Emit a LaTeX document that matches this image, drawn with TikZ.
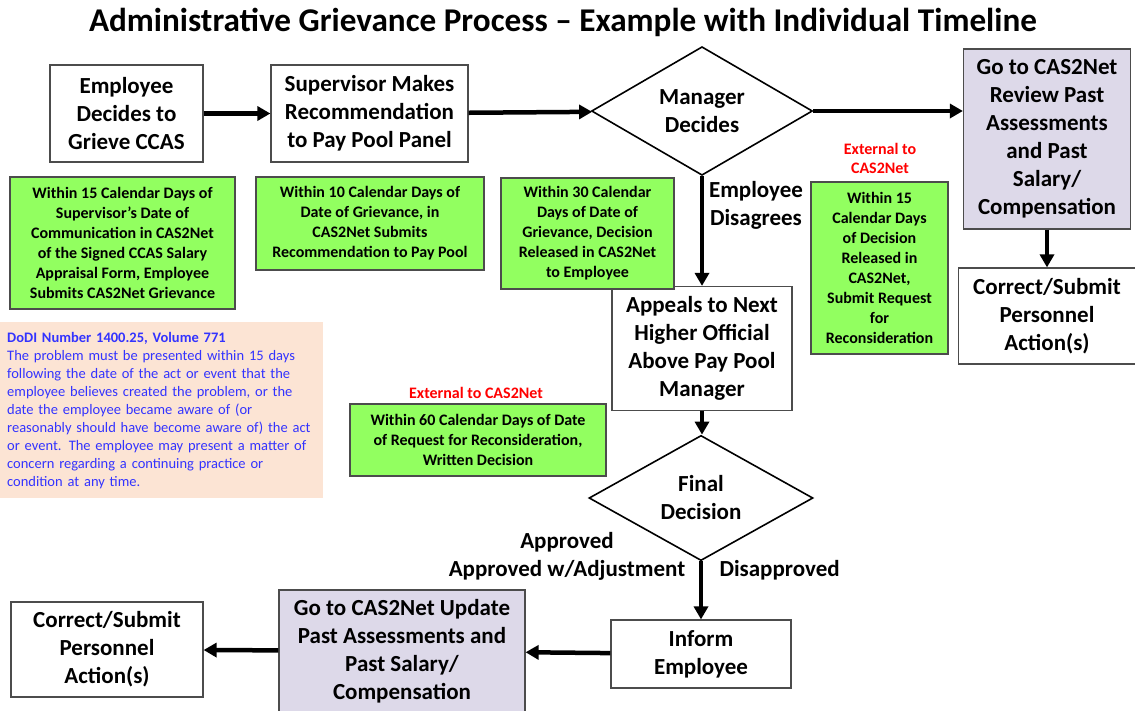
\documentclass[tikz,border=0pt]{standalone}
\usepackage{fontspec}
\setmainfont{Carlito}
\usetikzlibrary{shapes.geometric,arrows.meta}
\definecolor{grnfill}{RGB}{146,255,96}
\definecolor{lavfill}{RGB}{221,217,233}
\definecolor{peachfill}{RGB}{252,228,212}
\definecolor{notetext}{RGB}{51,51,255}
\tikzset{
  box/.style={draw=black!70, line width=1.2pt, fill=white, align=center, inner sep=0pt,
    font=\fontsize{23}{28}\selectfont\bfseries},
  lavbox/.style={box, fill=lavfill},
  greenbox/.style={draw=black!70, line width=1.2pt, fill=grnfill, align=center, inner sep=0pt,
    font=\fontsize{16}{20}\selectfont\bfseries},
  decision/.style={diamond, draw=black, line width=1.6pt, fill=white, align=center, inner sep=0pt,
    font=\fontsize{23}{28}\selectfont\bfseries},
  extnote/.style={text=red, align=center, font=\fontsize{16}{19}\selectfont\bfseries},
  flowlbl/.style={align=center, font=\fontsize{23}{28}\selectfont\bfseries},
  flow/.style={line width=4.5pt, -{Triangle[length=13pt,width=14pt]}},
}
\begin{document}
\begin{tikzpicture}[x=1pt,y=-1pt]
    \useasboundingbox (0,0) rectangle (1135,710);
    \node[font=\fontsize{33.2}{38}\selectfont\bfseries] (title) at (563,22)
        {Administrative Grievance Process – Example with Individual Timeline};
    % main flow
    \node[box, minimum width=153, minimum height=97] (Emp) at (126.5,113.5) {Employee\\Decides to\\Grieve CCAS};
    \node[box, minimum width=197, minimum height=97] (Sup) at (369.5,113.5) {Supervisor Makes\\Recommendation\\to Pay Pool Panel};
    \node[decision, minimum width=221, minimum height=121] (Mgr) at (702,111) {Manager\\Decides};
    \node[lavbox, minimum width=167, minimum height=180] (Review) at (1047,139) {Go to CAS2Net\\Review Past\\Assessments\\and Past\\Salary/\\Compensation};
    \node[box, minimum width=177, minimum height=96] (CorrR) at (1047,316) {Correct/Submit\\Personnel\\Action(s)};
    \node[box, minimum width=180, minimum height=124] (Appeal) at (702,348.5) {Appeals to Next\\Higher Official\\Above Pay Pool\\Manager};
    \node[decision, minimum width=224, minimum height=118] (Final) at (701,498) {Final\\Decision};
    \node[box, minimum width=180, minimum height=68] (Inform) at (701,654) {Inform\\Employee};
    \node[lavbox, minimum width=246, minimum height=122] (Update) at (402,651) {Go to CAS2Net Update\\Past Assessments and\\Past Salary/\\Compensation};
    \node[box, minimum width=192, minimum height=95] (CorrL) at (107,649.5) {Correct/Submit\\Personnel\\Action(s)};
    % timelines
    \node[greenbox, minimum width=225, minimum height=132] (T15) at (122.5,243) {Within 15 Calendar Days of\\Supervisor’s Date of\\Communication in CAS2Net\\of the Signed CCAS Salary\\Appraisal Form, Employee\\Submits CAS2Net Grievance};
    \node[greenbox, minimum width=228, minimum height=93] (T10) at (370,223.5) {Within 10 Calendar Days of\\Date of Grievance, in\\CAS2Net Submits\\Recommendation to Pay Pool};
    \node[greenbox, minimum width=173, minimum height=111] (T30) at (587.5,233.5) {Within 30 Calendar\\Days of Date of\\Grievance, Decision\\Released in CAS2Net\\to Employee};
    \node[greenbox, minimum width=137, minimum height=172] (Trec) at (879.5,268) {Within 15\\Calendar Days\\of Decision\\Released in\\CAS2Net,\\Submit Request\\for\\Reconsideration};
    \node[greenbox, minimum width=256, minimum height=72] (T60) at (478,440) {Within 60 Calendar Days of Date\\of Request for Reconsideration,\\Written Decision};
    \node[extnote] (ExtA) at (880,158) {External to\\CAS2Net};
    \node[extnote] (ExtB) at (476,393) {External to CAS2Net};
    % policy note
    \node[fill=peachfill, anchor=north west, minimum width=323, minimum height=176, text width=309,
        inner xsep=7, align=left, text=notetext, font=\fontsize{14.5}{18}\selectfont] (DoDI) at (0,322)
        {\textbf{DoDI Number 1400.25, Volume 771}\\
        The problem must be presented within 15 days\\
        following the date of the act or event that the\\
        employee believes created the problem, or the\\
        date the employee became aware of (or\\
        reasonably should have become aware of) the act\\
        or event. The employee may present a matter of\\
        concern regarding a continuing practice or\\
        condition at any time.};
    % outcome labels
    \node[flowlbl] (Disagree) at (756,205) {Employee\\Disagrees};
    \node[flowlbl] (Approved) at (567,556) {Approved\\Approved w/Adjustment};
    \node[flowlbl, anchor=west] (Disapp) at (716,570) {Disapproved};
    % connectors
    \draw[flow] (Emp) -- (Sup);
    \draw[flow] (Sup) -- (Mgr);
    \draw[flow] (Mgr.east) -- (Mgr.east -| Review.west);
    \draw[flow] (Review) -- (CorrR);
    \draw[flow] (Mgr) -- (Appeal);
    \draw[flow] (Appeal.south) -- (Appeal.south |- Final.north);
    \draw[flow] (Final) -- (Inform);
    \draw[flow] (Inform) -- (Update);
    \draw[flow] (Update) -- (CorrL);
\end{tikzpicture}
\end{document}
